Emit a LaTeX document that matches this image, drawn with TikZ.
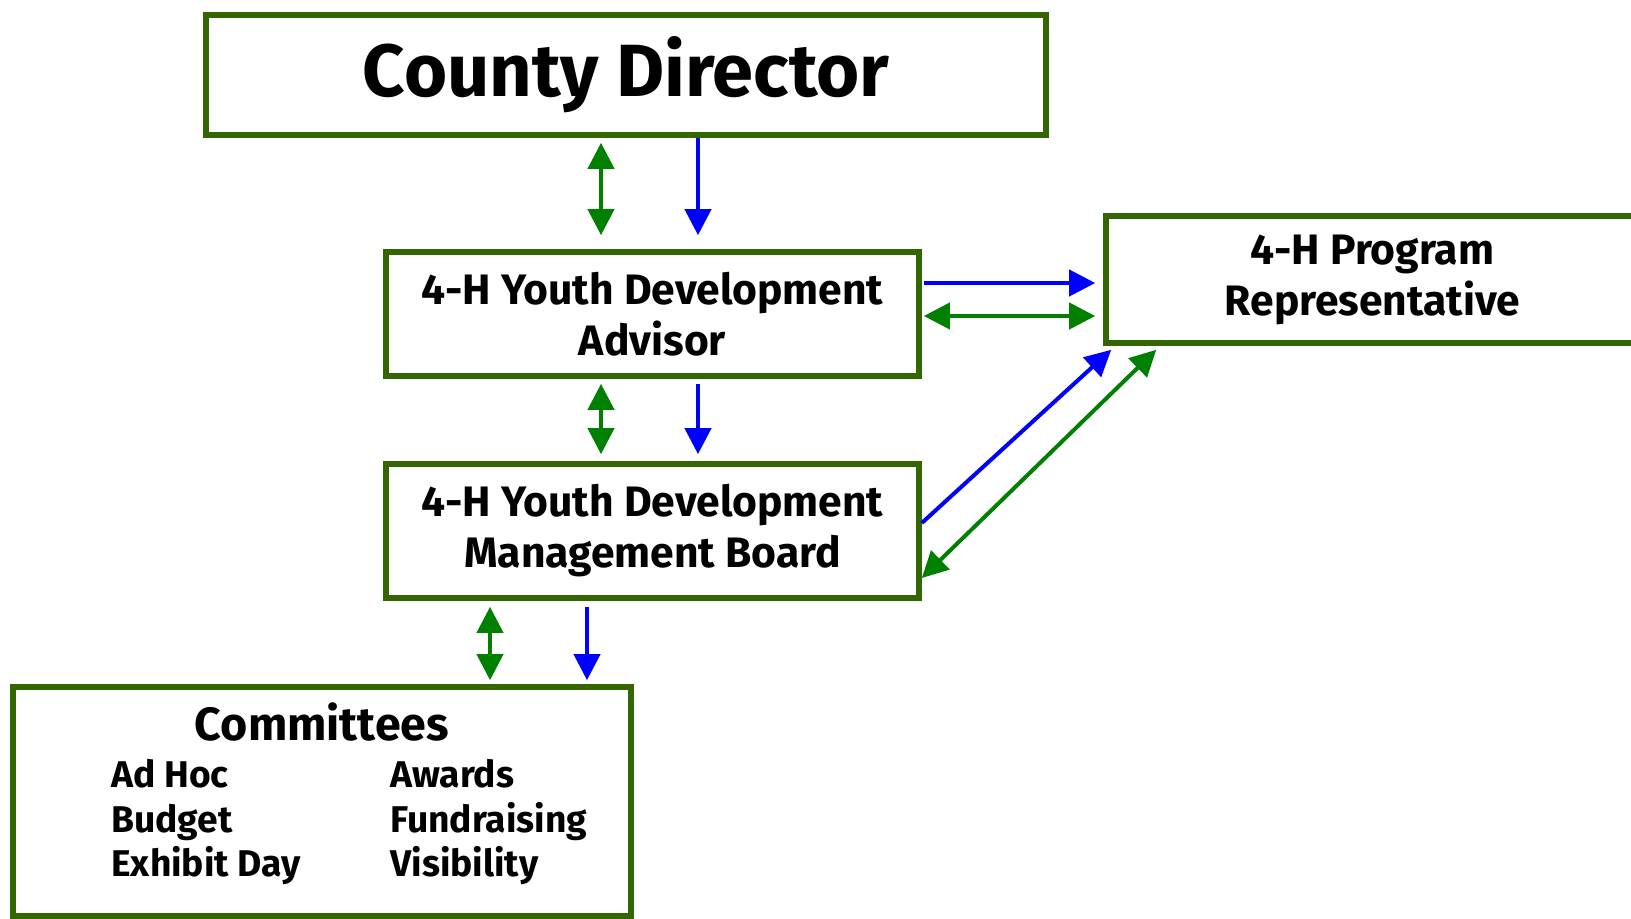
\documentclass[tikz,border=0pt]{standalone}
\usepackage{fontspec}
\setmainfont{Fira Sans}
\usepackage{tikz}
\usetikzlibrary{arrows.meta,positioning,calc}
\definecolor{boxgreen}{RGB}{51,102,0}
\definecolor{linkgreen}{RGB}{0,128,0}
\definecolor{linkblue}{RGB}{0,0,255}

\begin{document}
\begin{tikzpicture}[
  x=0.5pt, y=-0.5pt,
  box/.style={rectangle, draw=boxgreen, line width=2.8pt, fill=white, align=center, minimum width=266.5pt, font=\bfseries\fontsize{21.3}{25.5}\selectfont},
  item/.style={anchor=base west, inner sep=0pt, font=\bfseries\fontsize{18.6}{22}\selectfont},
  barrow/.style={-{Triangle[length=13pt,width=13pt]}, line width=2pt, draw=linkblue, fill=linkblue},
  garrow/.style={{Triangle[length=13pt,width=13pt]}-{Triangle[length=13pt,width=13pt]}, line width=2pt, draw=linkgreen, fill=linkgreen}
]
  \useasboundingbox (0,0) rectangle (1631,919);

  \node[box, minimum width=420pt, minimum height=60pt, font=\bfseries\fontsize{37}{42}\selectfont] (dir) at (626,75) {County Director};
  \node[box, minimum height=62pt] (adv) at (652.5,314) {4-H Youth Development\\Advisor};
  \node[box, minimum height=67pt] (board) at (652.5,531) {4-H Youth Development\\Management Board};
  \node[box, minimum height=63.5pt] (rep) at (1372.5,279.5) {4-H Program\\Representative};
  \node[box, minimum width=309pt, minimum height=114.5pt] (comm) at (322,801.5) {};

  % committee list
  \node[inner sep=0pt, font=\bfseries\fontsize{23.3}{27}\selectfont] (commtitle) at (322,722) {Committees};
  \node[item] (adhoc) at (111,787) {Ad Hoc};
  \node[item] (budget) at (111,832) {Budget};
  \node[item] (exhibit) at (111,876) {Exhibit Day};
  \node[item] (awards) at (390,787) {Awards};
  \node[item] (funds) at (390,832) {Fundraising};
  \node[item] (visib) at (390,876) {Visibility};

  \draw[garrow, shorten <=2.5pt, shorten >=7pt] ([xshift=-12.5pt]dir.south) -- ([xshift=-12.5pt]dir.south |- adv.north);
  \draw[barrow, shorten >=7pt] ([xshift=36pt]dir.south) -- ([xshift=36pt]dir.south |- adv.north);

  \draw[garrow, shorten <=2.5pt, shorten >=3.5pt] ([xshift=-25.75pt]adv.south) -- ([xshift=-25.75pt]adv.south |- board.north);
  \draw[barrow, shorten <=2.5pt, shorten >=3.5pt] ([xshift=22.75pt]adv.south) -- ([xshift=22.75pt]adv.south |- board.north);

  \draw[garrow, shorten <=3pt, shorten >=2pt] ([xshift=-81.25pt]board.south) -- ([xshift=-81.25pt]board.south |- comm.north);
  \draw[barrow, shorten <=3pt, shorten >=2pt] ([xshift=-32.75pt]board.south) -- ([xshift=-32.75pt]board.south |- comm.north);

  \draw[barrow, shorten <=1pt, shorten >=4pt] ([yshift=15.5pt]adv.east) -- ([yshift=15.5pt]adv.east -| rep.west);
  \draw[garrow, shorten <=1pt, shorten >=4pt] ([yshift=-1pt]adv.east) -- ([yshift=-1pt]adv.east -| rep.west);

  \draw[barrow] ([yshift=4pt]board.east) -- ([xshift=4pt,yshift=-2pt]rep.south west);
  \draw[garrow] ([yshift=-23.5pt]board.east) -- ([xshift=26.5pt,yshift=-2pt]rep.south west);
\end{tikzpicture}
\end{document}
